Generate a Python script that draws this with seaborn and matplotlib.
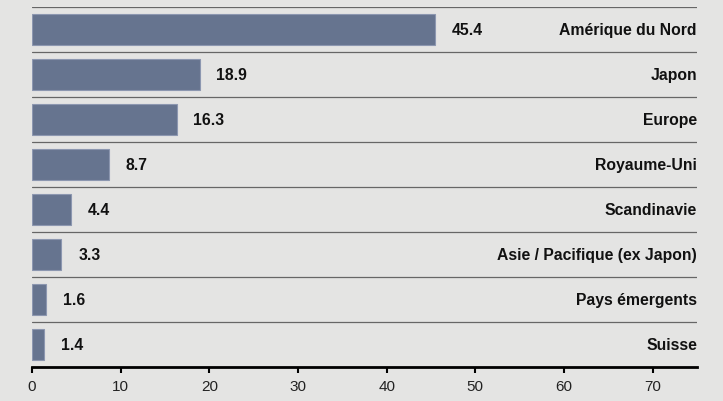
import matplotlib
matplotlib.use("Agg")
import matplotlib.pyplot as plt
import seaborn as sns
import pandas as pd

regions = ["Amérique du Nord", "Japon", "Europe", "Royaume-Uni", "Scandinavie",
           "Asie / Pacifique (ex Japon)", "Pays émergents", "Suisse"]
values = [45.4, 18.9, 16.3, 8.7, 4.4, 3.3, 1.6, 1.4]
x_ticks = [0, 10, 20, 30, 40, 50, 60, 70]

bg = "#e4e4e3"
bar_color = "#66748f"

sns.set_style("white")
plt.rcParams["font.family"] = ["Liberation Sans", "DejaVu Sans"]

df = pd.DataFrame({"region": regions, "value": values})

fig = plt.figure(figsize=(7.23, 4.02), dpi=100, facecolor=bg)
ax = fig.add_axes([32 / 723, 34 / 402, 665 / 723, 360 / 402])
ax.set_facecolor(bg)

sns.barplot(data=df, x="value", y="region", orient="h", color=bar_color,
            saturation=1, width=0.67, edgecolor="#8c97b0", linewidth=0.8, ax=ax)

ax.set_xlim(0, 75)
ax.set_ylim(len(regions) - 0.5, -0.5)

# row separators
for i in range(len(regions)):
    ax.axhline(i - 0.5, color="#666666", lw=0.9, zorder=0)

for i, (name, v) in enumerate(zip(regions, values)):
    ax.text(v + 1.9, i, f"{v:.1f}", va="center", ha="left",
            fontsize=11.3, fontweight="bold", color="#111111")
    ax.text(75, i, name, va="center", ha="right",
            fontsize=11.3, fontweight="bold", color="#111111")

for s in ["top", "right", "left"]:
    ax.spines[s].set_visible(False)
ax.spines["bottom"].set_color("black")
ax.spines["bottom"].set_linewidth(2)

ax.set_xticks(x_ticks)
ax.set_xticklabels([str(t) for t in x_ticks])
ax.set_yticks([])
ax.tick_params(axis="x", direction="out", length=4, width=1.5, color="black",
               labelsize=11, labelcolor="#222222", pad=5, bottom=True)
ax.set_xlabel("")
ax.set_ylabel("")

fig.savefig("out.png", dpi=100, facecolor=bg)
